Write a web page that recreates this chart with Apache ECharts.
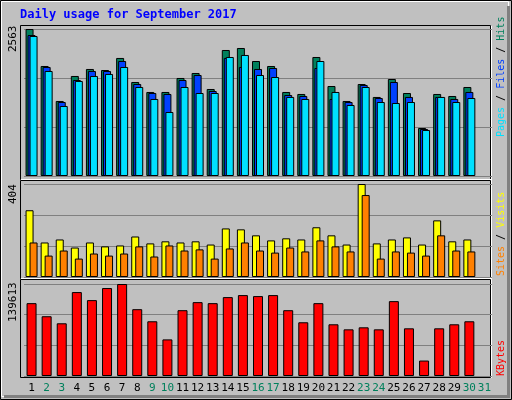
<!DOCTYPE html>
<html>
<head>
<meta charset="utf-8">
<script src="https://cdn.jsdelivr.net/npm/echarts@6/dist/echarts.min.js"></script>
<style>
html,body{margin:0;padding:0;background:#c0c0c0;}
#chart{width:512px;height:400px;}
</style>
</head>
<body>
<div id="chart"></div>
<script>
// daily values
var days = ['1','2','3','4','5','6','7','8','9','10','11','12','13','14','15','16','17','18','19','20','21','22','23','24','25','26','27','28','29','30','31'];
var weekend = ['2','3','9','10','16','17','23','24','30','31'];
var hits = [2563,1918,1308,1744,1866,1848,2058,1639,1465,1465,1709,1796,1517,2197,2232,2005,1918,1465,1430,2075,1569,1308,1604,1378,1691,1447,837,1430,1395,1552,null];
var files = [2458,1901,1290,1674,1831,1831,2005,1604,1447,1430,1674,1761,1482,2058,1901,1866,1883,1412,1395,1883,1343,1290,1587,1360,1639,1378,820,1378,1343,1465,null];
var pages = [2441,1831,1221,1657,1744,1779,1901,1552,1343,1116,1552,1447,1447,2075,2110,1761,1726,1378,1343,2005,1465,1238,1552,1290,1273,1290,802,1378,1290,1360,null];
var visits = [290,150,163,128,150,133,137,176,146,155,150,155,141,211,207,181,159,168,163,216,181,141,404,146,163,172,141,246,155,163,null];
var sites = [150,93,115,80,102,93,102,133,89,137,115,120,80,124,150,115,106,128,111,159,133,111,356,80,111,106,93,181,115,111,null];
var kbytes = [110562,90693,79992,127375,115147,133489,139613,101391,83049,55536,99862,112090,110562,119733,122790,121262,122790,99862,81520,110562,78463,70821,73878,70821,113619,72349,23437,72349,78463,83049,null];
var maxHits = 2563, maxVisits = 404, maxKbytes = 139613;

var mono = 'DejaVu Sans Mono';
var chart = echarts.init(document.getElementById('chart'));

function xAx(idx, labels){
  return {
    type:'category', gridIndex:idx, data:days,
    axisLine:{show:false}, axisTick:{show:false},
    axisLabel:labels ? {
      show:true, margin:7, interval:0, fontFamily:mono, fontSize:11,
      formatter:function(v){ return weekend.indexOf(v)>=0 ? '{w|'+v+'}' : '{d|'+v+'}'; },
      rich:{w:{color:'#00805c',fontFamily:mono,fontSize:11}, d:{color:'#000',fontFamily:mono,fontSize:11}}
    } : {show:false}
  };
}
function yAx(idx, max){
  return {
    type:'value', gridIndex:idx, min:0, max:max, interval:max/3,
    axisLine:{show:false}, axisTick:{show:false}, axisLabel:{show:false},
    splitLine:{show:true, lineStyle:{color:'#808080', width:1}}
  };
}
function bar(name, data, color, xi, w, gap){
  return {
    name:name, type:'bar', xAxisIndex:xi, yAxisIndex:xi, data:data,
    barWidth:w, barGap:gap, animation:false,
    itemStyle:{color:color, borderColor:'#000', borderWidth:1}
  };
}

chart.setOption({
  backgroundColor:'#c0c0c0',
  grid:[
    {left:24, right:20, top:29, height:147},
    {left:24, right:20, top:184, height:93},
    {left:24, right:20, top:284, height:92}
  ],
  xAxis:[xAx(0,false), xAx(1,false), xAx(2,true)],
  yAxis:[yAx(0,maxHits), yAx(1,maxVisits), yAx(2,maxKbytes)],
  series:[
    bar('Hits', hits, '#00805c', 0, 8, '-75%'),
    bar('Files', files, '#0040ff', 0, 8, '-75%'),
    bar('Pages', pages, '#00e0ff', 0, 8, '-75%'),
    bar('Visits', visits, '#ffff00', 1, 8, '-50%'),
    bar('Sites', sites, '#ff8000', 1, 8, '-50%'),
    bar('KBytes', kbytes, '#ff0000', 2, 10, '0%')
  ],
  graphic:[
    {type:'rect', shape:{x:0.5,y:0.5,width:511,height:399}, style:{fill:null, stroke:'#000', lineWidth:1}, z:-1},
    {type:'rect', shape:{x:1.5,y:1.5,width:507,height:395}, style:{fill:null, stroke:'#fff', lineWidth:1}, z:-1},
    {type:'rect', shape:{x:507,y:6,width:3,height:392}, style:{fill:'#808080'}, z:-1},
    {type:'rect', shape:{x:4,y:395,width:506,height:3}, style:{fill:'#808080'}, z:-1},
    {type:'rect', shape:{x:20.5,y:25.5,width:470,height:154}, style:{fill:null, stroke:'#000', lineWidth:1}, z:-1},
    {type:'rect', shape:{x:20.5,y:180.5,width:470,height:98}, style:{fill:null, stroke:'#000', lineWidth:1}, z:-1},
    {type:'rect', shape:{x:20.5,y:279.5,width:470,height:98}, style:{fill:null, stroke:'#000', lineWidth:1}, z:-1},
    {type:'line', shape:{x1:21,y1:179.5,x2:491,y2:179.5}, style:{stroke:'#fff'}},
    {type:'line', shape:{x1:21,y1:278.5,x2:491,y2:278.5}, style:{stroke:'#fff'}},
    {type:'line', shape:{x1:491.5,y1:26,x2:491.5,y2:378}, style:{stroke:'#fff'}},
    {type:'text', left:20, top:9, style:{text:'Daily usage for September 2017', fill:'#0000ff', font:'bold 12px "DejaVu Sans Mono"'}},
    {type:'text', x:8, y:52, rotation:Math.PI/2, style:{text:String(maxHits), fill:'#000', font:'11px "DejaVu Sans Mono"'}},
    {type:'text', x:8, y:204, rotation:Math.PI/2, style:{text:String(maxVisits), fill:'#000', font:'11px "DejaVu Sans Mono"'}},
    {type:'text', x:8, y:322, rotation:Math.PI/2, style:{text:String(maxKbytes), fill:'#000', font:'11px "DejaVu Sans Mono"'}},
    {type:'text', x:496, y:137, rotation:Math.PI/2, style:{
      text:'{p|Pages}{s| / }{f|Files}{s| / }{h|Hits}', font:'10px "DejaVu Sans Mono"',
      rich:{p:{fill:'#00e0ff',font:'10px "DejaVu Sans Mono"'}, f:{fill:'#0040ff',font:'10px "DejaVu Sans Mono"'}, h:{fill:'#00805c',font:'10px "DejaVu Sans Mono"'}, s:{fill:'#000',font:'10px "DejaVu Sans Mono"'}}}},
    {type:'text', x:496, y:276, rotation:Math.PI/2, style:{
      text:'{a|Sites}{s| / }{b|Visits}', font:'10px "DejaVu Sans Mono"',
      rich:{a:{fill:'#ff8000',font:'10px "DejaVu Sans Mono"'}, b:{fill:'#ffff00',font:'10px "DejaVu Sans Mono"'}, s:{fill:'#000',font:'10px "DejaVu Sans Mono"'}}}},
    {type:'text', x:496, y:376, rotation:Math.PI/2, style:{text:'KBytes', fill:'#ff0000', font:'10px "DejaVu Sans Mono"'}}
  ]
});
</script>
</body>
</html>
